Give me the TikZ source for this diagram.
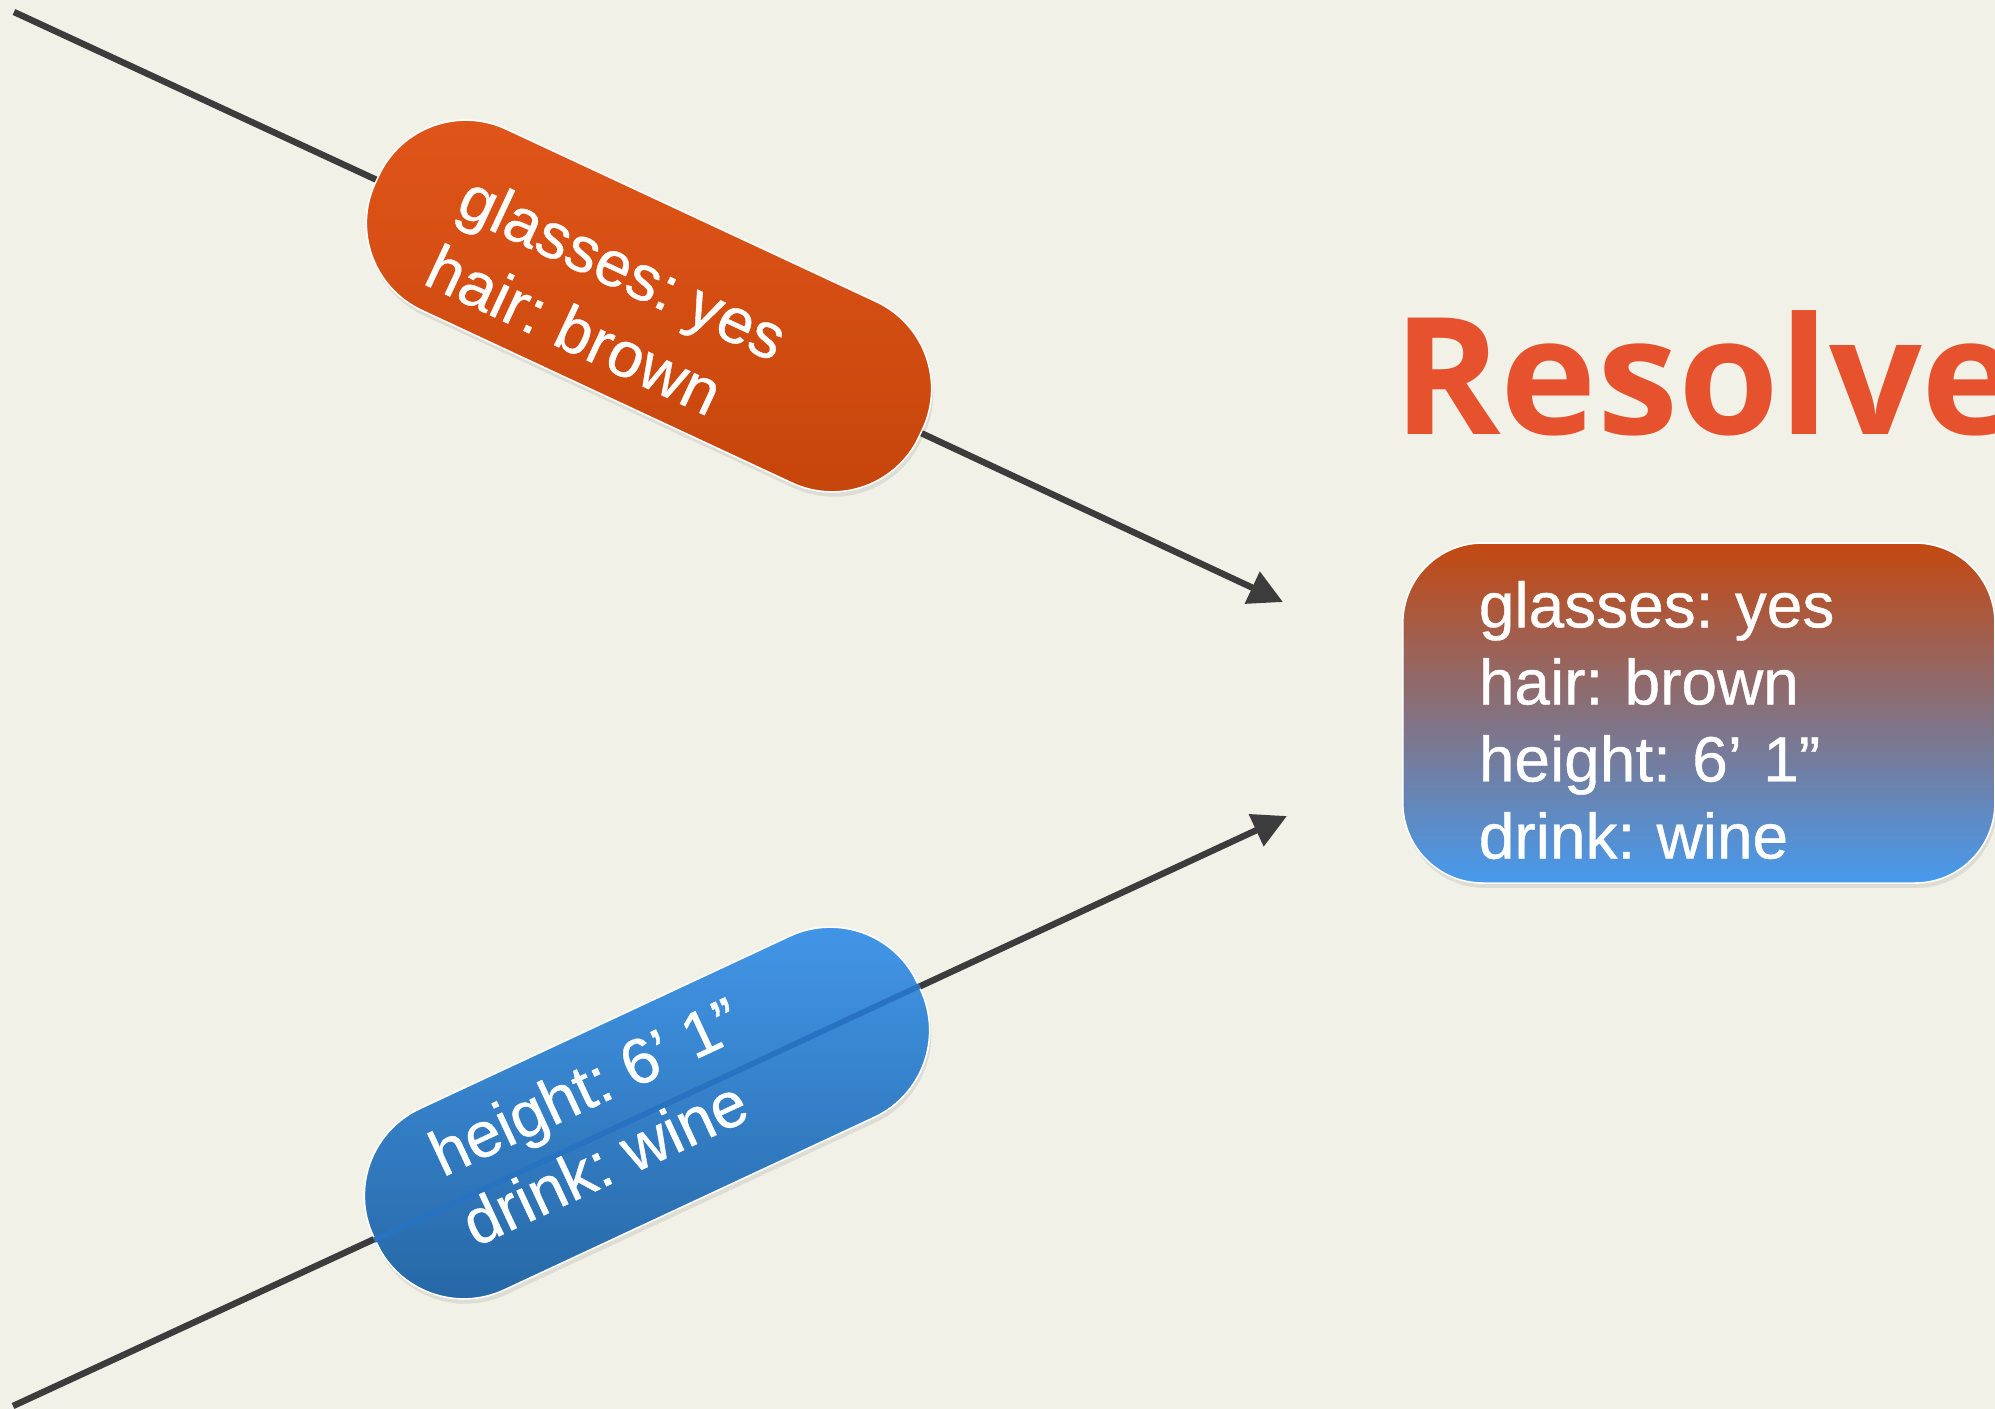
\documentclass[tikz,border=0pt]{standalone}
\usepackage{fontspec}
\setmainfont{Liberation Sans}
\newfontfamily\labelfont{Liberation Sans}[FakeBold=0.6]
\newfontfamily\titlefont{Open Sans}
\usetikzlibrary{arrows.meta,shadows}

\definecolor{paper}{RGB}{242,241,232}
\definecolor{wire}{RGB}{60,60,60}
\definecolor{rusttop}{RGB}{226,86,26}
\definecolor{rustbot}{RGB}{196,68,10}
\definecolor{skytop}{RGB}{68,153,236}
\definecolor{skybot}{RGB}{36,100,160}
\definecolor{skyline}{RGB}{40,114,194}
\definecolor{mergetop}{RGB}{196,72,16}
\definecolor{mergemid}{RGB}{134,108,150}
\definecolor{mergebot}{RGB}{70,154,238}
\definecolor{headline}{RGB}{229,82,45}

\tikzset{
    conn/.style={draw=wire, line width=1.6mm},
    arrowed/.style={conn, -{Triangle[length=8.5mm, width=8.5mm]}},
    pill/.style={rectangle, rounded corners=2.4cm, minimum width=15cm, minimum height=5cm,
        inner sep=0pt, draw=white, line width=0.4mm,
        drop shadow={opacity=0.18, shadow xshift=0.4mm, shadow yshift=-1.2mm}},
    pilltext/.style={text=white, align=left, inner sep=0pt,
        font=\labelfont\fontsize{45.5}{54.8}\selectfont},
    stripe/.style={draw=skyline, line width=1.4mm},
}

\begin{document}
\frenchspacing
\begin{tikzpicture}[x=0.025cm, y=-0.025cm]
    \useasboundingbox (0,0) rectangle (1995,1409);
    \fill[paper] (0,0) rectangle (1995,1409);

    % free ends of the two connectors
    \coordinate (glassfrom) at (14,12);
    \coordinate (glassto) at (1283,602);
    \coordinate (heightfrom) at (13,1406);
    \coordinate (heightto) at (1287,816);

    % upper label
    \node[pill, top color=rusttop, bottom color=rustbot, rotate=-25] (glasspill) at (649,306) {};
    \node[pilltext, rotate=-25] (glasstext) at (607,302) {glasses: yes\\hair: brown};

    % lower label
    \node[pill, top color=skytop, bottom color=skybot, rotate=25] (heightpill) at (647,1113) {};
    \draw[stripe] (heightpill.west) -- (heightpill.east);
    \node[pilltext, rotate=25] (heighttext) at (601,1121) {height: 6’ 1”\\drink: wine};

    % connectors
    \draw[conn] (glassfrom) -- (glasspill);
    \draw[arrowed] (glasspill) -- (glassto);
    \draw[conn] (heightfrom) -- (heightpill);
    \draw[arrowed] (heightpill) -- (heightto);

    % merged result
    \node[text=headline, anchor=base west, inner sep=0pt,
        font=\titlefont\bfseries\fontsize{116}{120}\selectfont] (resolved) at (1393,434) {Resolve};
    \node[rectangle, anchor=west, rounded corners=2cm, minimum width=14.8cm, minimum height=8.5cm,
        text width=11cm, inner xsep=1.9cm, align=left, draw=white, line width=0.4mm,
        top color=mergetop, middle color=mergemid, bottom color=mergebot,
        drop shadow={opacity=0.18, shadow xshift=0.4mm, shadow yshift=-1.2mm},
        text=white, font=\labelfont\fontsize{45.5}{54.8}\selectfont] (merged) at (1402,713)
        {\rule{0pt}{43pt}glasses: yes\\hair: brown\\height: 6’ 1”\\drink: wine};
\end{tikzpicture}
\end{document}
